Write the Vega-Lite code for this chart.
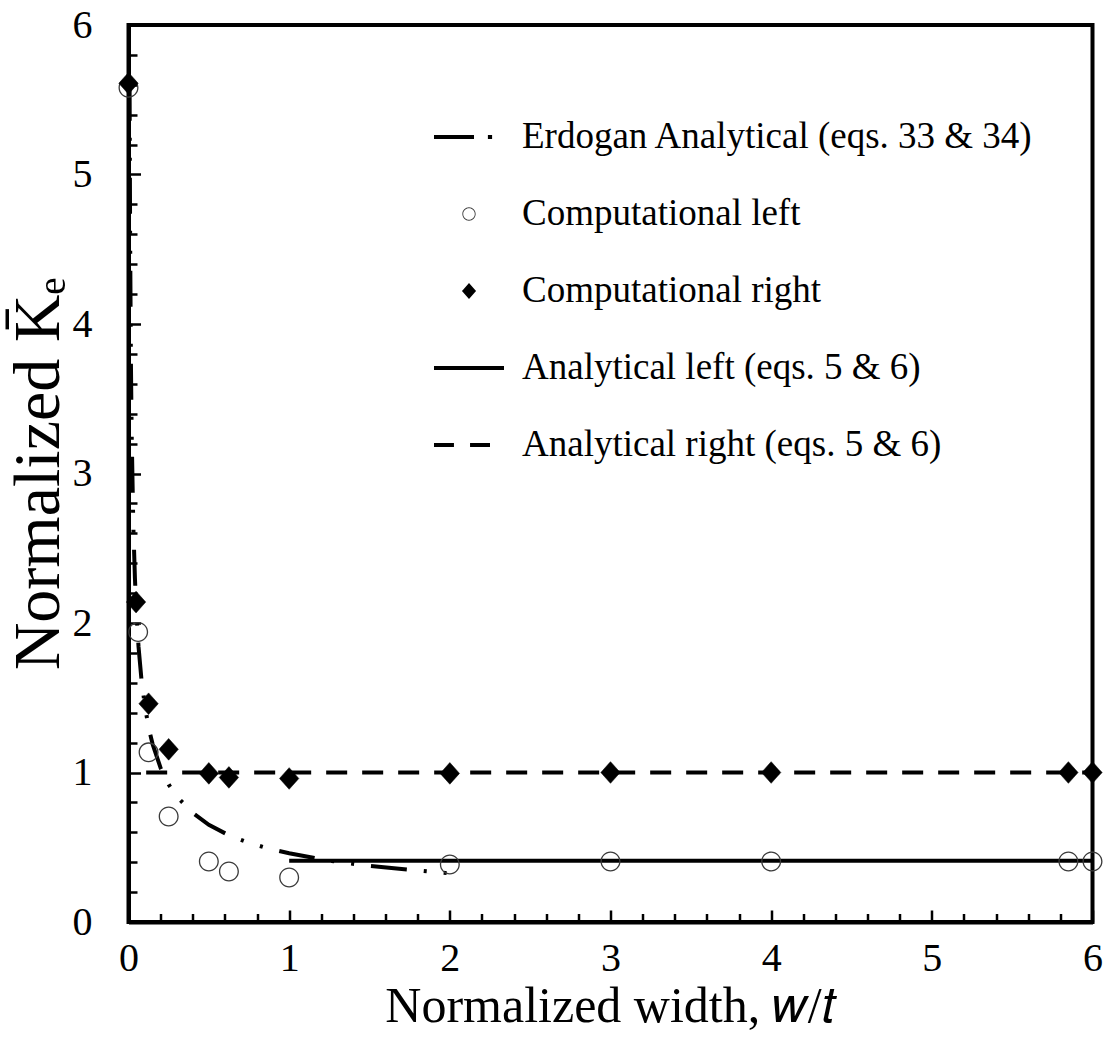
{
  "$schema": "https://vega.github.io/schema/vega-lite/v6.json",
  "width": 964,
  "height": 897,
  "autosize": "none",
  "padding": {"left": 128.5, "top": 25, "right": 17.5, "bottom": 116},
  "background": "white",
  "config": {
    "view": {"stroke": "black", "strokeWidth": 4},
    "font": "Liberation Serif",
    "axis": {
      "grid": false,
      "domainColor": "black",
      "domainWidth": 4,
      "tickColor": "black",
      "tickWidth": 2.5,
      "labelFont": "Liberation Serif",
      "labelColor": "black",
      "labelFlush": false,
      "labelOverlap": false,
      "titleFont": "Liberation Serif",
      "titleFontWeight": "normal",
      "titleColor": "black"
    },
    "legend": {
      "orient": "none",
      "legendX": 303.5,
      "legendY": 75,
      "padding": 0,
      "labelFont": "Liberation Serif",
      "labelFontSize": 37,
      "labelColor": "black",
      "labelLimit": 0,
      "labelOffset": 16,
      "symbolSize": 4900,
      "symbolStrokeWidth": 4,
      "rowPadding": 22
    }
  },
  "datasets": {
    "erdogan": [
      {"x": 0.0068, "y": 5.6},
      {"x": 0.01, "y": 4.6},
      {"x": 0.015, "y": 3.75},
      {"x": 0.02, "y": 3.25},
      {"x": 0.03, "y": 2.65},
      {"x": 0.04, "y": 2.3},
      {"x": 0.05, "y": 2.06},
      {"x": 0.0625, "y": 1.84},
      {"x": 0.08, "y": 1.63},
      {"x": 0.1, "y": 1.46},
      {"x": 0.125, "y": 1.3},
      {"x": 0.15, "y": 1.19},
      {"x": 0.2, "y": 1.03},
      {"x": 0.25, "y": 0.92},
      {"x": 0.3, "y": 0.84},
      {"x": 0.4, "y": 0.73},
      {"x": 0.5, "y": 0.65},
      {"x": 0.625, "y": 0.58},
      {"x": 0.75, "y": 0.53},
      {"x": 0.875, "y": 0.49},
      {"x": 1.0, "y": 0.46},
      {"x": 1.25, "y": 0.41},
      {"x": 1.5, "y": 0.375},
      {"x": 1.75, "y": 0.35},
      {"x": 2.0, "y": 0.325}
    ],
    "analyticalLeft": [
      {"x": 1.0, "y": 0.41},
      {"x": 6.0, "y": 0.41}
    ],
    "analyticalRight": [
      {"x": 0.11, "y": 1.0},
      {"x": 6.0, "y": 1.0}
    ],
    "compLeft": [
      {"series": "Computational left", "x": 0.0, "y": 5.58},
      {"series": "Computational left", "x": 0.06, "y": 1.94},
      {"series": "Computational left", "x": 0.125, "y": 1.135},
      {"series": "Computational left", "x": 0.25, "y": 0.706},
      {"series": "Computational left", "x": 0.5, "y": 0.405},
      {"series": "Computational left", "x": 0.625, "y": 0.338},
      {"series": "Computational left", "x": 1.0, "y": 0.298},
      {"series": "Computational left", "x": 2.0, "y": 0.385},
      {"series": "Computational left", "x": 3.0, "y": 0.405},
      {"series": "Computational left", "x": 4.0, "y": 0.405},
      {"series": "Computational left", "x": 5.85, "y": 0.405},
      {"series": "Computational left", "x": 6.0, "y": 0.405}
    ],
    "compRight": [
      {"series": "Computational right", "x": 0.0, "y": 5.61},
      {"series": "Computational right", "x": 0.047, "y": 2.14},
      {"series": "Computational right", "x": 0.125, "y": 1.46},
      {"series": "Computational right", "x": 0.25, "y": 1.155},
      {"series": "Computational right", "x": 0.5, "y": 0.994},
      {"series": "Computational right", "x": 0.625, "y": 0.967},
      {"series": "Computational right", "x": 1.0, "y": 0.96},
      {"series": "Computational right", "x": 2.0, "y": 0.994},
      {"series": "Computational right", "x": 3.0, "y": 1.0},
      {"series": "Computational right", "x": 4.0, "y": 1.0},
      {"series": "Computational right", "x": 5.85, "y": 1.0},
      {"series": "Computational right", "x": 6.0, "y": 1.0}
    ]
  },
  "encoding": {
    "x": {
      "field": "x",
      "type": "quantitative",
      "scale": {"domain": [0, 6], "nice": false, "zero": false},
      "axis": {
        "title": "Normalized width, 𝑤/𝑡",
        "values": [0, 0.2, 0.4, 0.6, 0.8, 1, 1.2, 1.4, 1.6, 1.8, 2, 2.2, 2.4, 2.6, 2.8, 3, 3.2, 3.4, 3.6, 3.8, 4, 4.2, 4.4, 4.6, 4.8, 5, 5.2, 5.4, 5.6, 5.8, 6],
        "labelExpr": "abs(datum.value - round(datum.value)) < 0.001 ? format(datum.value, 'd') : ''",
        "tickSize": {"condition": {"test": "abs(datum.value - round(datum.value)) < 0.001", "value": -12}, "value": -8.5},
        "labelFontSize": 40,
        "labelPadding": 28,
        "titleFontSize": 50,
        "titlePadding": 0
      }
    },
    "y": {
      "field": "y",
      "type": "quantitative",
      "scale": {"domain": [0, 6], "nice": false, "zero": false},
      "axis": {
        "title": "Normalized K̄ₑ",
        "values": [0, 0.2, 0.4, 0.6, 0.8, 1, 1.2, 1.4, 1.6, 1.8, 2, 2.2, 2.4, 2.6, 2.8, 3, 3.2, 3.4, 3.6, 3.8, 4, 4.2, 4.4, 4.6, 4.8, 5, 5.2, 5.4, 5.6, 5.8, 6],
        "labelExpr": "abs(datum.value - round(datum.value)) < 0.001 ? format(datum.value, 'd') : ''",
        "tickSize": {"condition": {"test": "abs(datum.value - round(datum.value)) < 0.001", "value": -12}, "value": -8.5},
        "labelFontSize": 40,
        "labelPadding": 48.5,
        "titleFontSize": 66,
        "titlePadding": 0
      }
    }
  },
  "layer": [
    {
      "data": {"name": "erdogan"},
      "mark": {"type": "line", "color": "black", "strokeWidth": 4, "strokeCap": "butt", "strokeDash": [36, 17, 3, 17, 3, 17]}
    },
    {
      "data": {"name": "analyticalLeft"},
      "mark": {"type": "line", "color": "black", "strokeWidth": 4}
    },
    {
      "data": {"name": "analyticalRight"},
      "mark": {"type": "line", "color": "black", "strokeWidth": 4, "strokeDash": [21, 15]}
    },
    {
      "data": {"name": "compLeft"},
      "mark": {"type": "point", "filled": true, "size": 11080, "strokeWidth": 4, "opacity": 1},
      "encoding": {
        "shape": {
          "field": "series",
          "type": "nominal",
          "scale": {
            "domain": ["Erdogan Analytical (eqs. 33 & 34)", "Computational left", "Computational right", "Analytical left (eqs. 5 & 6)", "Analytical right (eqs. 5 & 6)"],
            "range": [
              "M-1,0H0.143M0.54,0H0.66",
              "M0.19,0A0.19,0.19,0,1,1,-0.19,0A0.19,0.19,0,1,1,0.19,0ZM0.165,0A0.165,0.165,0,1,0,-0.165,0A0.165,0.165,0,1,0,0.165,0Z",
              "M-0.125,0L0,-0.14L0.125,0L0,0.14Z",
              "M-1,0H1",
              "M-1,0H-0.43M0.03,0H0.6"
            ]
          },
          "legend": {"title": null}
        },
        "fill": {
          "field": "series",
          "type": "nominal",
          "scale": {
            "domain": ["Erdogan Analytical (eqs. 33 & 34)", "Computational left", "Computational right", "Analytical left (eqs. 5 & 6)", "Analytical right (eqs. 5 & 6)"],
            "range": ["transparent", "#3a3a3a", "black", "transparent", "transparent"]
          },
          "legend": {"title": null}
        },
        "stroke": {
          "field": "series",
          "type": "nominal",
          "scale": {
            "domain": ["Erdogan Analytical (eqs. 33 & 34)", "Computational left", "Computational right", "Analytical left (eqs. 5 & 6)", "Analytical right (eqs. 5 & 6)"],
            "range": ["black", "transparent", "black", "black", "black"]
          },
          "legend": {"title": null}
        }
      }
    },
    {
      "data": {"name": "compRight"},
      "mark": {"type": "point", "filled": true, "size": 24000, "strokeWidth": 0.5, "opacity": 1},
      "encoding": {
        "shape": {"field": "series", "type": "nominal", "legend": {"title": null}},
        "fill": {"field": "series", "type": "nominal", "legend": {"title": null}},
        "stroke": {"field": "series", "type": "nominal", "legend": {"title": null}}
      }
    }
  ]
}
